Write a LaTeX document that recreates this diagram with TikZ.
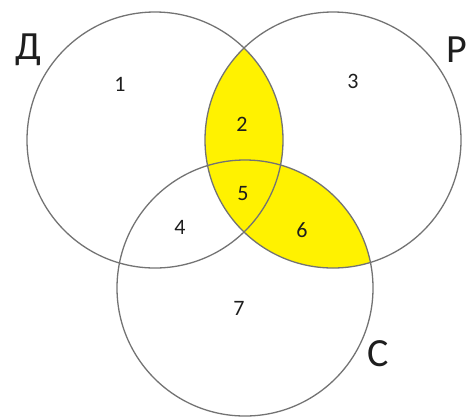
\documentclass[tikz,border=0pt]{standalone}
\usepackage{fontspec}
\setmainfont{Carlito}
\usepackage{tikz}
\usetikzlibrary{backgrounds}
\definecolor{setline}{RGB}{115,115,115}
\definecolor{hlyellow}{RGB}{255,242,0}
\definecolor{numtext}{RGB}{30,30,30}
\tikzset{
  setcircle/.style={circle,draw=setline,line width=1.3pt,minimum size=256pt,inner sep=0pt},
  regionnum/.style={font=\fontsize{22}{24}\selectfont,text=numtext,inner sep=0pt},
  setlabel/.style={font=\fontsize{40}{42}\selectfont,text=numtext,inner sep=0pt}
}
\begin{document}
\begin{tikzpicture}[x=1pt,y=-1pt]
  \useasboundingbox (0,0) rectangle (473,416);
  \node[setcircle] (D) at (155,140) {};
  \node[setcircle] (P) at (333,140) {};
  \node[setcircle] (C) at (245,288) {};
  % shaded regions 2, 5, 6
  \begin{scope}[on background layer]
    \clip (P.center) circle (128pt);
    \fill[hlyellow] (D.center) circle (128pt) (C.center) circle (128pt);
  \end{scope}
  \node[setlabel] (lD) at (28,50) {Д};
  \node[setlabel] (lP) at (457,50) {Р};
  \node[setlabel] (lC) at (378,354) {С};
  \node[regionnum] (n1) at (120,84) {1};
  \node[regionnum] (n2) at (242,124) {2};
  \node[regionnum] (n3) at (353,81) {3};
  \node[regionnum] (n4) at (180,227) {4};
  \node[regionnum] (n5) at (243,194) {5};
  \node[regionnum] (n6) at (302,230) {6};
  \node[regionnum] (n7) at (239,308) {7};
\end{tikzpicture}
\end{document}
